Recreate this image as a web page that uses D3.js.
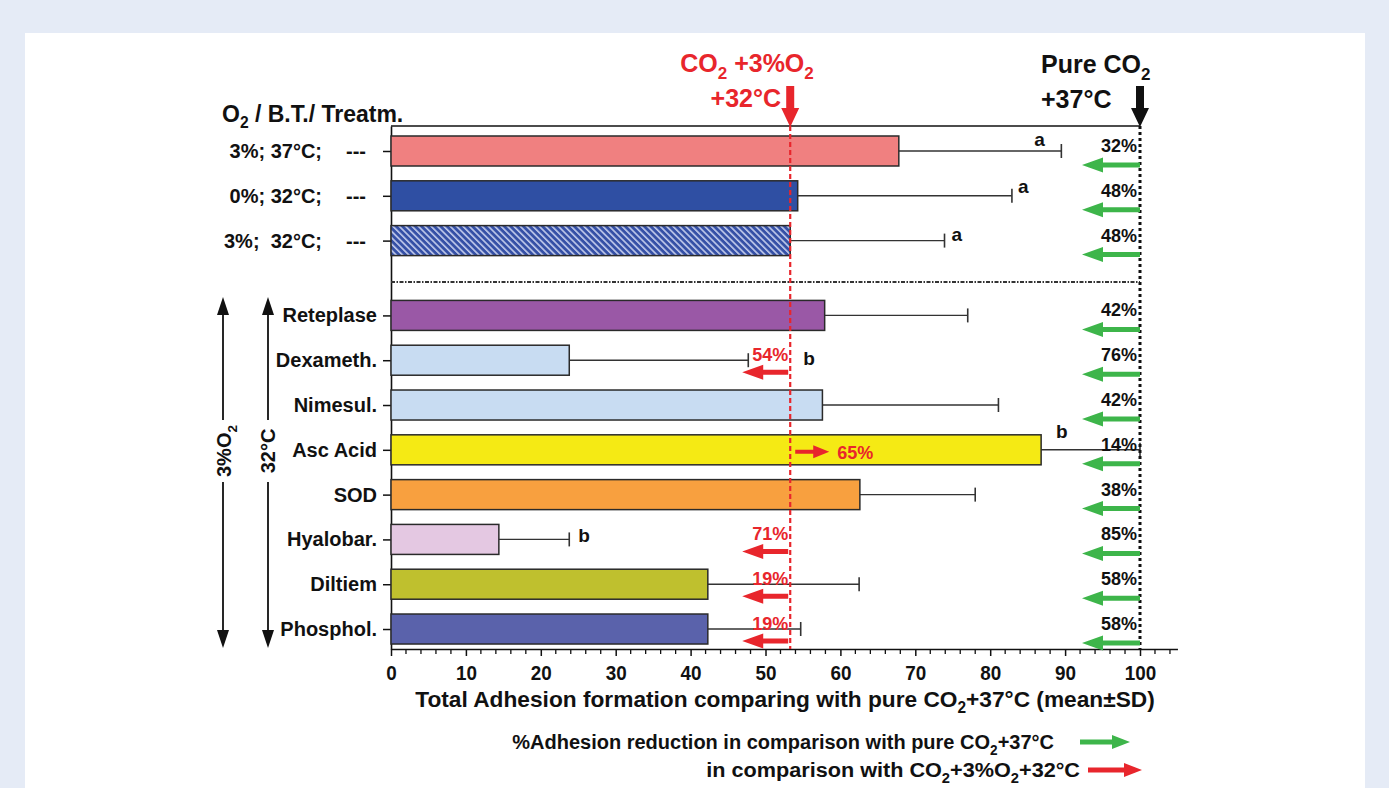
<!DOCTYPE html>
<html><head><meta charset="utf-8">
<script src="https://cdn.jsdelivr.net/npm/d3@7"></script>
<style>
body{margin:0;background:#e5ebf6;}
svg{display:block;font-family:"Liberation Sans",Arial,Helvetica,sans-serif;font-weight:bold;}
</style>
</head><body><svg id="c" width="1389" height="788"></svg>
<script>
// ---------------- DATA ----------------
const categories = ["3%; 37°C;", "0%; 32°C;", "3%;  32°C;", "Reteplase", "Dexameth.", "Nimesul.", "Asc Acid", "SOD", "Hyalobar.", "Diltiem", "Phosphol."];
const isBaseline = [true, true, true, false, false, false, false, false, false, false, false];
const means = [67.8, 54.3, 53.3, 57.9, 23.8, 57.6, 86.8, 62.6, 14.4, 42.3, 42.3];
const sds   = [21.7, 28.6, 20.6, 19.1, 23.9, 23.5, 13.2, 15.4, 9.4, 20.2, 12.4];
const greenPct = [32, 48, 48, 42, 76, 42, 14, 38, 85, 58, 58];
const redPct   = [null, null, null, null, 54, null, 65, null, 71, 19, 19];
const sigLetters = ["a", "a", "a", "", "b", "", "b", "", "b", "", ""];
const refValue = 53.3;    // CO2 + 3%O2 + 32°C
const pureValue = 100;    // pure CO2 + 37°C
const xTicks = [0, 10, 20, 30, 40, 50, 60, 70, 80, 90, 100];
const barColors = ["#f08080", "#2f4fa3", "url(#hatch)", "#9a58a6", "#c8dcf2", "#c8dcf2", "#f5ea14", "#f8a03f", "#e4c8e2", "#bfc02e", "#5a62ab"];

// layout offsets for significance letters (px, relative to error-bar end)
const letterDx = [-27, 6, 7, 0, 55, 0, -84, 0, 9, 0, 0];
const letterDy = [-5, -3, 0, 0, 5, 0, -12, 0, 3, 0, 0];

// ---------------- SCALES ----------------
const svg = d3.select("#c");
const red = "#e8262c", green = "#3db54a";

const x = d3.scaleLinear().domain([0, 105]).range([391, 391 + 105 * 7.49]);
const slot = i => isBaseline[i] ? i : i + 0.67;
const y = d3.scaleLinear().domain([-0.558, 11.116]).range([126, 649]);
const barH = 30;

svg.append("rect").attr("x", 0).attr("y", 0).attr("width", 1389).attr("height", 788).attr("fill", "#e5ebf6");
svg.append("rect").attr("x", 25).attr("y", 33).attr("width", 1340).attr("height", 755).attr("fill", "#fff");

const defs = svg.append("defs");
const pat = defs.append("pattern").attr("id", "hatch").attr("patternUnits", "userSpaceOnUse")
  .attr("width", 4.5).attr("height", 4.5).attr("patternTransform", "rotate(-45)");
pat.append("rect").attr("width", 4.5).attr("height", 4.5).attr("fill", "#3550a6");
pat.append("rect").attr("width", 1.6).attr("height", 4.5).attr("fill", "#c3ccec");

function hArrow(xTail, xTip, yy, color, shaft, headL, headW) {
  const dir = Math.sign(xTip - xTail), xh = xTip - dir * headL;
  const pts = [[xTail, yy - shaft / 2], [xh, yy - shaft / 2], [xh, yy - headW / 2], [xTip, yy], [xh, yy + headW / 2], [xh, yy + shaft / 2], [xTail, yy + shaft / 2]];
  svg.append("polygon").attr("points", pts.map(p => p.join(",")).join(" ")).attr("fill", color);
}
function vArrow(xx, yTail, yTip, color, shaft, headL, headW) {
  const dir = Math.sign(yTip - yTail), yh = yTip - dir * headL;
  const pts = [[xx - shaft / 2, yTail], [xx - shaft / 2, yh], [xx - headW / 2, yh], [xx, yTip], [xx + headW / 2, yh], [xx + shaft / 2, yh], [xx + shaft / 2, yTail]];
  svg.append("polygon").attr("points", pts.map(p => p.join(",")).join(" ")).attr("fill", color);
}
function rich(parent, xx, yy, parts, size, opts = {}) {
  const t = parent.append("text").attr("x", xx).attr("y", yy).attr("font-size", size)
    .attr("fill", opts.fill || "#111").attr("text-anchor", opts.anchor || "start");
  if (opts.transform) t.attr("transform", opts.transform);
  let prevSub = false;
  const d = size * 0.28;
  parts.forEach(p => {
    const sub = Array.isArray(p);
    const s = sub ? p[0] : p;
    const ts = t.append("tspan").text(s).style("white-space", "pre");
    if (sub) { ts.attr("font-size", size * 0.68).attr("dy", prevSub ? 0 : d); }
    else if (prevSub) { ts.attr("dy", -d); }
    prevSub = sub;
  });
  return t;
}
function fitText(ax, ay, parts, size, width, anchor, fill) {
  const t = rich(svg, 0, 0, parts, size, { anchor, fill });
  const w = t.node().getBBox().width;
  t.attr("transform", `translate(${ax},${ay}) scale(${width / w},1)`);
  return t;
}

// ---------------- AXES ----------------
const xAxis = svg.append("g").attr("transform", "translate(0,649)")
  .call(d3.axisBottom(x).tickValues(xTicks).tickSize(7).tickSizeOuter(0).tickPadding(10));
xAxis.select(".domain").attr("stroke", "#111").attr("stroke-width", 1.6);
xAxis.selectAll(".tick line").attr("stroke", "#111").attr("stroke-width", 1.5);
xAxis.selectAll(".tick text").attr("font-size", 20).attr("fill", "#111")
  .attr("font-family", "'Liberation Sans',Arial,sans-serif").attr("font-weight", "bold").attr("dy", "0.7em")
  .attr("textLength", d => String(d).length * 10.5).attr("lengthAdjust", "spacingAndGlyphs");
const minor = d3.range(2, 105, 2).filter(v => v % 10 !== 0);
svg.append("g").selectAll("line").data(minor).join("line")
  .attr("x1", d => x(d)).attr("x2", d => x(d)).attr("y1", 649).attr("y2", 654)
  .attr("stroke", "#111").attr("stroke-width", 1.3);

const idx = d3.range(categories.length);
const yAxis = svg.append("g").attr("transform", "translate(391,0)")
  .call(d3.axisLeft(y).tickValues(idx.map(slot)).tickSize(8).tickSizeOuter(0).tickFormat(() => ""));
yAxis.select(".domain").attr("stroke", "#111").attr("stroke-width", 1.6);
yAxis.selectAll(".tick line").attr("stroke", "#111").attr("stroke-width", 1.5);

svg.append("line").attr("x1", x(0)).attr("x2", x(pureValue)).attr("y1", 126).attr("y2", 126)
  .attr("stroke", "#111").attr("stroke-width", 1.5);

const sepY = (y(slot(2)) + y(slot(3))) / 2 + 4;
svg.append("line").attr("x1", x(0)).attr("x2", x(pureValue)).attr("y1", sepY).attr("y2", sepY)
  .attr("stroke", "#333").attr("stroke-width", 2).attr("stroke-dasharray", "4,1.5,1.5,1.5");

idx.forEach(i => {
  const cy = y(slot(i));
  if (isBaseline[i]) {
    svg.append("text").attr("x", 322).attr("y", cy + 7).attr("text-anchor", "end").attr("font-size", 20)
      .attr("fill", "#111").style("white-space", "pre").text(categories[i]);
    svg.append("text").attr("x", 356).attr("y", cy + 7).attr("text-anchor", "middle").attr("font-size", 20)
      .attr("fill", "#111").text("---");
  } else {
    svg.append("text").attr("x", 377).attr("y", cy + 7).attr("text-anchor", "end").attr("font-size", 20)
      .attr("fill", "#111").text(categories[i]);
  }
});

rich(svg, 222, 122, ["O", ["2"], " / B.T./ Treatm."], 23);

// ---------------- ERROR BARS & BARS ----------------
idx.forEach(i => {
  const cy = y(slot(i));
  const xe = x(means[i] + sds[i]);
  svg.append("line").attr("x1", x(means[i])).attr("x2", xe).attr("y1", cy).attr("y2", cy)
    .attr("stroke", "#333").attr("stroke-width", 1.4);
  svg.append("line").attr("x1", xe).attr("x2", xe).attr("y1", cy - 7).attr("y2", cy + 7)
    .attr("stroke", "#333").attr("stroke-width", 1.6);
});
svg.append("g").selectAll("rect").data(idx).join("rect")
  .attr("x", x(0)).attr("y", i => y(slot(i)) - barH / 2)
  .attr("width", i => x(means[i]) - x(0)).attr("height", barH)
  .attr("fill", i => barColors[i]).attr("stroke", "#2a2a2a").attr("stroke-width", 1.5);

idx.forEach(i => {
  if (!sigLetters[i]) return;
  const cy = y(slot(i));
  svg.append("text").attr("x", x(means[i] + sds[i]) + letterDx[i]).attr("y", cy + letterDy[i])
    .attr("font-size", 19).attr("fill", "#111").text(sigLetters[i]);
});

// ---------------- REFERENCE LINES ----------------
svg.append("line").attr("x1", x(refValue)).attr("x2", x(refValue)).attr("y1", 126).attr("y2", 649)
  .attr("stroke", red).attr("stroke-width", 2.2).attr("stroke-dasharray", "5,3");
svg.append("line").attr("x1", x(pureValue)).attr("x2", x(pureValue)).attr("y1", 126).attr("y2", 649)
  .attr("stroke", "#111").attr("stroke-width", 3).attr("stroke-dasharray", "3,3");

vArrow(x(refValue), 86, 127, red, 8, 19, 18);
vArrow(x(pureValue), 86, 127, "#111", 8, 19, 18);
rich(svg, 747, 72, ["CO", ["2"], " +3%O", ["2"]], 25, { fill: red, anchor: "middle" });
svg.append("text").attr("x", 781).attr("y", 107).attr("text-anchor", "end").attr("font-size", 25).attr("fill", red).text("+32°C");
rich(svg, 1041, 73, ["Pure CO", ["2"]], 25, {});
svg.append("text").attr("x", 1041).attr("y", 108).attr("font-size", 25).attr("fill", "#111").text("+37°C");

// ---------------- PERCENT ANNOTATIONS ----------------
idx.forEach(i => {
  const cy = y(slot(i));
  svg.append("text").attr("x", x(pureValue) - 3).attr("y", cy + 1).attr("text-anchor", "end")
    .attr("font-size", 18).attr("fill", "#111").text(greenPct[i] + "%");
  hArrow(x(pureValue), x(pureValue) - 58, cy + 14, green, 5, 21, 15);
  if (redPct[i] != null) {
    if (means[i] < refValue) {
      svg.append("text").attr("x", x(refValue) - 2).attr("y", cy + 1).attr("text-anchor", "end")
        .attr("font-size", 18).attr("fill", red).text(redPct[i] + "%");
      hArrow(x(refValue) - 2, x(refValue) - 48, cy + 12, red, 5, 21, 15);
    } else {
      hArrow(x(refValue) + 5, x(refValue) + 39, cy + 2, red, 4, 16, 13);
      svg.append("text").attr("x", x(refValue) + 47).attr("y", cy + 9)
        .attr("font-size", 18).attr("fill", red).text(redPct[i] + "%");
    }
  }
});

// ---------------- LEFT GROUP ARROWS ----------------
[[223, 231, ["3%O", ["2"]]], [268, 275, ["32°C"]]].forEach(([lx, tx, parts]) => {
  vArrow(lx, 420, 297, "#111", 1.8, 18, 12);
  vArrow(lx, 482, 648, "#111", 1.8, 18, 12);
  rich(svg, 0, 0, parts, 20, { anchor: "middle", transform: `translate(${tx},451) rotate(-90)` });
});

// ---------------- AXIS TITLE & LEGEND ----------------
fitText(785, 707, ["Total Adhesion formation comparing with pure CO", ["2"], "+37°C (mean±SD)"], 23, 740, "middle");
fitText(1054, 749, ["%Adhesion reduction in comparison with pure CO", ["2"], "+37°C"], 21, 542, "end");
fitText(1080, 777, ["in comparison with CO", ["2"], "+3%O", ["2"], "+32°C"], 21, 374, "end");
hArrow(1080, 1130, 742, green, 5, 18, 14);
hArrow(1088, 1142, 770, red, 5, 18, 14);
</script></body></html>
